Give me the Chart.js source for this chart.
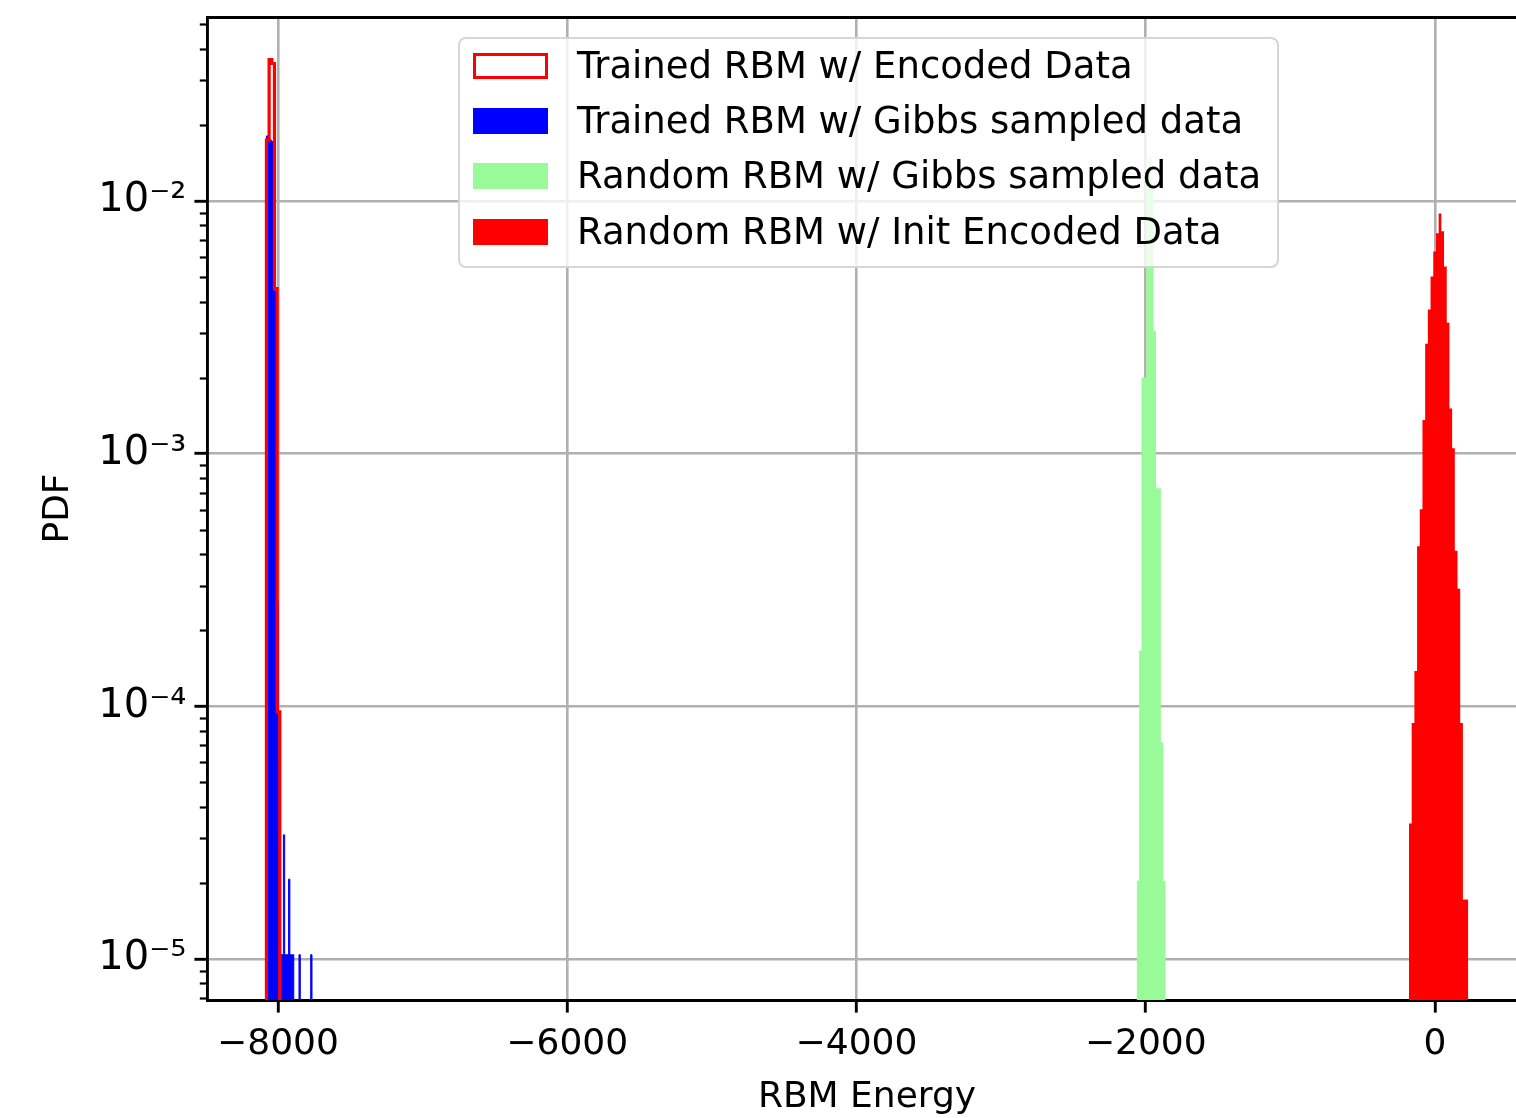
<!DOCTYPE html>
<html>
<head>
<meta charset="utf-8">
<script src="https://cdn.jsdelivr.net/npm/chart.js@4/dist/chart.umd.min.js"></script>
<style>
html, body { margin: 0; padding: 0; background: #ffffff; overflow: hidden; }
#wrap { position: relative; width: 1530px; height: 1118px; }
#legend { position: absolute; left: 458px; top: 37px; width: 821px; height: 231px;
  background: rgba(255,255,255,0.8); border: 2px solid rgba(204,204,204,0.8);
  border-radius: 8px; font-family: 'DejaVu Sans'; font-size: 37px; color: #000; box-sizing: border-box; }
.row { position: absolute; left: 0; height: 40px; white-space: nowrap; }
.sw { position: absolute; left: 13px; width: 75px; height: 26px; box-sizing: border-box; }
.lt { position: absolute; left: 117px; line-height: 40px; }
</style>
</head>
<body>
<div id="wrap"><canvas id="c"></canvas><div id="legend"></div></div>
<script>
// ---------------- data ----------------
const seriesLabels = [
  'Trained RBM w/ Encoded Data',
  'Trained RBM w/ Gibbs sampled data',
  'Random RBM w/ Gibbs sampled data',
  'Random RBM w/ Init Encoded Data'
];
// Trained RBM w/ Encoded Data (step outline)
const trainedEncStart = -8080;
const trainedEncWidth = 18.5;
const trainedEncPdf = [0.0174, 0.0363, 0.035, 0.0045, 0.000095];

// Trained RBM w/ Gibbs sampled data (filled)
const trainedGibbsStart = -8080;
const trainedGibbsWidth = 9;
const trainedGibbsPdf = [
  0.0181, 0.0181, 0.0176, 0.0174, 0.0172, 0.0168, 0.0044, 0.0044, 0.00026, 0.00006,
  0.0000104, 0.0000104, 0.0000104, 0.000031, 0.0000104, 0.0000104, 0.0000104, 0.0000207, 0.0000104, 0.0000104,
  0.0000104, 0, 0, 0, 0, 0.0000104, 0, 0, 0, 0,
  0, 0, 0, 0, 0.0000104
];

// Random RBM w/ Gibbs sampled data (filled)
const randomGibbsStart = -2063;
const randomGibbsWidth = 16.75;
const randomGibbsPdf = [0.0000204, 0.000166, 0.0020, 0.0020, 0.0112, 0.0149, 0.0112, 0.00305, 0.00073, 0.00073, 0.000072, 0.0000203];

// Random RBM w/ Init Encoded Data (filled)
const randomInitStart = -180;
const randomInitWidth = 18.64;
const randomInitPdf = [
  0.0000344, 0.000086, 0.000138, 0.00043, 0.000602, 0.00136, 0.00272, 0.00372, 0.00502, 0.00631,
  0.00745, 0.00893, 0.00759, 0.0055, 0.0033, 0.00151, 0.00105, 0.000413, 0.000292, 0.000086,
  0.0000172, 0.0000172
];

const xTicks = [-8000, -6000, -4000, -2000, 0];
const yMajorTicks = [1e-5, 1e-4, 1e-3, 1e-2];
const xRange = [-8491, 636];
const yRange = [6.883e-6, 0.05348];

// ---------------- helpers ----------------
const FLOOR = 1e-12; // empty bin, below the visible axis
function histPoints(start, width, pdf) {
  const pts = [{ x: start, y: FLOOR }];
  pdf.forEach((v, i) => pts.push({ x: start + i * width, y: v > 0 ? v : FLOOR }));
  pts.push({ x: start + pdf.length * width, y: FLOOR });
  return pts;
}
const sup = { '-': '\u207B', '0': '\u2070', '1': '\u00B9', '2': '\u00B2', '3': '\u00B3', '4': '\u2074', '5': '\u2075', '6': '\u2076', '7': '\u2077', '8': '\u2078', '9': '\u2079' };
function logLabel(v) {
  const e = String(Math.round(Math.log10(v)));
  return '10' + e.split('').map(c => sup[c]).join('');
}

Chart.defaults.font.family = "'DejaVu Sans'";
Chart.defaults.font.size = 36;
Chart.defaults.color = '#000000';

const GRID = '#b0b0b0';

const minorTicks = {
  id: 'minorTicks',
  afterDraw(chart) {
    const y = chart.scales.y;
    const ctx = chart.ctx;
    ctx.save();
    ctx.strokeStyle = '#000';
    ctx.lineWidth = 2.2;
    const lo = Math.floor(Math.log10(yRange[0])), hi = Math.ceil(Math.log10(yRange[1]));
    for (let e = lo; e <= hi; e++) {
      for (let m = 2; m <= 9; m++) {
        const v = m * Math.pow(10, e);
        if (v < yRange[0] || v > yRange[1]) continue;
        const py = Math.round(y.getPixelForValue(v)) + 0.5;
        ctx.beginPath();
        ctx.moveTo(y.right, py);
        ctx.lineTo(y.right - 7.2, py);
        ctx.stroke();
      }
    }
    ctx.restore();
  }
};

const common = { pointRadius: 0, stepped: true, tension: 0 };
const chart = new Chart(document.getElementById('c'), {
  type: 'line',
  data: {
    datasets: [
      Object.assign({ label: seriesLabels[0], data: histPoints(trainedEncStart, trainedEncWidth, trainedEncPdf),
        borderColor: '#ff0000', borderWidth: 3.2, fill: false, backgroundColor: 'rgba(0,0,0,0)', order: 0 }, common),
      Object.assign({ label: seriesLabels[1], data: histPoints(trainedGibbsStart, trainedGibbsWidth, trainedGibbsPdf),
        borderColor: '#0000ff', borderWidth: 1, fill: 'start', backgroundColor: '#0000ff', order: 3 }, common),
      Object.assign({ label: seriesLabels[2], data: histPoints(randomGibbsStart, randomGibbsWidth, randomGibbsPdf),
        borderColor: 'rgba(0,0,0,0)', borderWidth: 0, fill: 'start', backgroundColor: '#98fb98', order: 2 }, common),
      Object.assign({ label: seriesLabels[3], data: histPoints(randomInitStart, randomInitWidth, randomInitPdf),
        borderColor: 'rgba(0,0,0,0)', borderWidth: 0, fill: 'start', backgroundColor: '#ff0000', order: 1 }, common)
    ]
  },
  options: {
    responsive: true,
    maintainAspectRatio: false,
    animation: false,
    events: [],
    layout: { padding: { top: 17, right: 3, bottom: 0, left: 0 } },
    plugins: { legend: { display: false }, tooltip: { enabled: false } },
    scales: {
      x: {
        type: 'linear', position: 'bottom', min: xRange[0], max: xRange[1], z: 1,
        afterBuildTicks: s => { s.ticks = xTicks.map(v => ({ value: v })); },
        afterFit: s => { s.height = 118; s.paddingLeft = 0; s.paddingRight = 0; },
        ticks: { autoSkip: false, maxRotation: 0, padding: 10, includeBounds: false,
          callback: v => String(v).replace('-', '\u2212') },
        grid: { color: GRID, lineWidth: 2.6, tickLength: 12.6, tickColor: '#000', tickWidth: 2.9 },
        border: { display: true, color: '#000', width: 2.9 },
        title: { display: true, text: 'RBM Energy', font: { size: 36, lineHeight: 1 }, padding: { top: 0, bottom: 2 } }
      },
      x2: {
        type: 'linear', position: 'top', min: xRange[0], max: xRange[1], z: 1,
        afterFit: s => { s.height = 0; s.paddingLeft = 0; s.paddingRight = 0; },
        ticks: { display: false },
        grid: { display: false, drawTicks: false },
        border: { display: true, color: '#000', width: 2.9 }
      },
      y: {
        type: 'logarithmic', position: 'left', min: yRange[0], max: yRange[1], z: 1,
        afterBuildTicks: s => { s.ticks = yMajorTicks.map(v => ({ value: v, major: true })); },
        afterFit: s => { s.width = 207; s.paddingTop = 0; s.paddingBottom = 0; },
        ticks: { autoSkip: false, padding: 8, font: { size: 40 }, callback: v => logLabel(v) },
        grid: { color: GRID, lineWidth: 2.6, tickLength: 12.6, tickColor: '#000', tickWidth: 2.9 },
        border: { display: true, color: '#000', width: 2.9 },
        title: { display: true, text: 'PDF', font: { size: 36, lineHeight: 1 }, padding: { top: 41, bottom: 0 } }
      }
    }
  },
  plugins: [minorTicks]
});

// ---------------- legend (built from the datasets) ----------------
const legend = document.getElementById('legend');
const rowCenters = [29, 83.5, 139, 195];
chart.data.datasets.forEach((ds, i) => {
  const row = document.createElement('div');
  row.className = 'row';
  row.style.top = (rowCenters[i] - 2 - 20) + 'px';
  const sw = document.createElement('div');
  sw.className = 'sw';
  sw.style.top = '7px';
  if (ds.fill === false) {
    sw.style.border = '3px solid ' + ds.borderColor;
    sw.style.background = 'transparent';
  } else {
    sw.style.background = ds.backgroundColor;
  }
  const t = document.createElement('span');
  t.className = 'lt';
  t.textContent = ds.label;
  row.appendChild(sw);
  row.appendChild(t);
  legend.appendChild(row);
});
</script>
</body>
</html>
